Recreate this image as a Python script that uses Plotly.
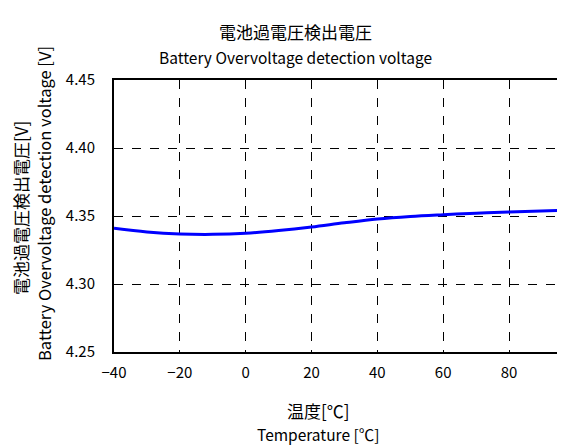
import plotly.graph_objects as go

# temperature [degC] and overvoltage detection voltage [V]
temp = [-40, -30, -20, -10, 0, 10, 20, 30, 40, 50, 60, 70, 80, 97]
volt = [4.341, 4.3383, 4.3368, 4.3365, 4.3373, 4.3393, 4.3419, 4.3450, 4.3478, 4.3497, 4.3510, 4.3521, 4.3530, 4.3542]

x_ticks = [-40, -20, 0, 20, 40, 60, 80]
x_labels = ["\u221240", "\u221220", "0", "20", "40", "60", "80"]
y_ticks = [4.25, 4.30, 4.35, 4.40, 4.45]

FONT = "Noto Sans CJK JP"

fig = go.Figure()
fig.add_trace(go.Scatter(x=temp, y=volt, mode="lines", line=dict(color="#0000FF", width=3, shape="spline"),
                         showlegend=False))

# page has an 8px body margin, so the figure is drawn shifted by 8px
OFF = 8
W, H = 565, 446
L, T, B, R = 114 - OFF, 80 - OFF, 446 - (352 - OFF), OFF


def px(x):
    return (x - OFF - L) / (W - L - R)


def py(y):
    return (H - B - (y - OFF)) / (H - T - B)


fig.update_layout(
    width=W, height=H,
    margin=dict(l=L, r=R, t=T, b=B),
    paper_bgcolor="white", plot_bgcolor="white",
    font=dict(family=FONT, color="black", size=15),
    xaxis=dict(range=[-40, 97], tickvals=x_ticks, ticktext=x_labels,
               showgrid=True, gridcolor="black", griddash="dash", gridwidth=1,
               showline=True, linecolor="black", linewidth=2, mirror=True,
               zeroline=False, ticks="outside", ticklen=6, tickcolor="white"),
    yaxis=dict(range=[4.25, 4.45], tickvals=y_ticks, tickformat=".2f",
               showgrid=True, gridcolor="black", griddash="dash", gridwidth=1,
               showline=True, linecolor="black", linewidth=2, mirror=False,
               zeroline=False, ticks="outside", ticklen=14, tickcolor="white"),
)

annos = [
    dict(text="電池過電圧検出電圧", x=px(295), y=py(32), size=17, angle=0),
    dict(text="Battery Overvoltage detection voltage", x=px(295), y=py(57), size=15.5, angle=0),
    dict(text="温度[℃]", x=px(318), y=py(410), size=17, angle=0),
    dict(text="Temperature [℃]", x=px(318), y=py(434), size=15.5, angle=0),
    dict(text="電池過電圧検出電圧[V]", x=px(20), y=py(208), size=17, angle=-90),
    dict(text="Battery Overvoltage detection voltage [V]", x=px(44), y=py(204), size=16.5, angle=-90),
]
for a in annos:
    fig.add_annotation(text=a["text"], x=a["x"], y=a["y"], xref="paper", yref="paper",
                       xanchor="center", yanchor="middle", showarrow=False, textangle=a["angle"],
                       font=dict(family=FONT, size=a["size"], color="black"))

fig.write_html("out.html")
